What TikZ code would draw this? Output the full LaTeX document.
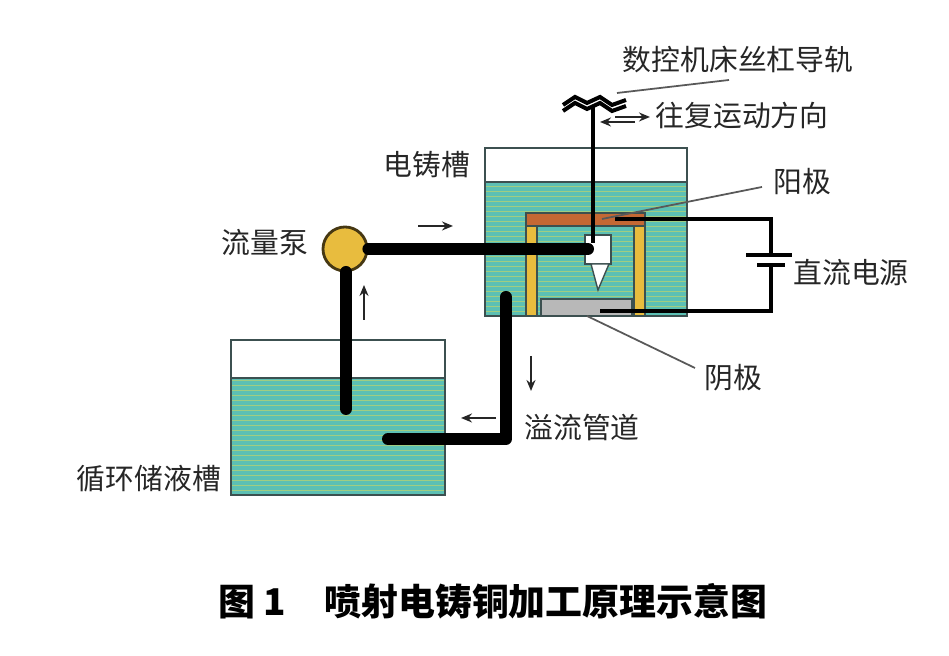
\documentclass[tikz,border=0pt]{standalone}
\usepackage{fontspec}
\setmainfont{Noto Sans CJK SC}
\usepackage{xcolor}
\definecolor{liquidc}{RGB}{92,192,180}
\definecolor{stripec}{RGB}{160,205,130}
\definecolor{goldc}{RGB}{232,188,62}
\definecolor{copperc}{RGB}{196,104,52}
\definecolor{edgec}{RGB}{60,80,80}
\usetikzlibrary{arrows.meta}
\tikzset{
  lab/.style={font=\fontsize{8.2}{10}\selectfont,text=black!85,inner sep=0pt},
  pipe/.style={line width=.12cm,line cap=round,line join=round},
  wire/.style={line width=.04cm},
  thinarr/.style={-{Stealth[length=.11cm,width=.09cm]},line width=.5pt,black!85},
  leader/.style={line width=.5pt,black!65},
  tankbox/.style={draw=edgec,line width=.6pt},
}
% stripes of the liquid: x0, x1, y-top, y-bottom
\newcommand{\liquid}[4]{%
  \fill[liquidc] (#1,#3) rectangle (#2,#4);
  \pgfmathsetmacro{\ynext}{#4+.05}
  \foreach \yy in {#4,\ynext,...,#3} \draw[stripec,line width=.2pt] (#1,\yy)--(#2,\yy);
}
\begin{document}
\begin{tikzpicture}
\useasboundingbox (0,0) rectangle (9.49,6.56);
% reservoir
\liquid{2.31}{4.45}{2.78}{1.61}
\draw[tankbox] (2.31,1.61) rectangle (4.45,3.16);
\draw[tankbox] (2.31,2.78)--(4.45,2.78);
% forming tank
\liquid{4.85}{6.87}{4.74}{3.40}
\draw[tankbox] (4.85,3.40) rectangle (6.87,5.08);
\draw[tankbox] (4.85,4.74)--(6.87,4.74);
% frame, anode, cathode
\fill[goldc,draw=edgec] (5.26,3.40) rectangle (5.37,4.30);
\fill[goldc,draw=edgec] (6.34,3.40) rectangle (6.45,4.30);
\fill[copperc,draw=edgec] (5.26,4.30) rectangle (6.45,4.43);
\fill[black!28,draw=edgec] (5.41,3.40) rectangle (6.32,3.57);
% nozzle
\fill[white,draw=edgec] (5.85,3.92) rectangle (6.11,4.21);
\fill[white,draw=edgec] (5.91,3.92)--(6.09,3.92)--(5.98,3.66)--cycle;
% named points of pipes and wires
\node[circle,fill=goldc,draw=black!70!goldc,line width=.8pt,minimum size=.44cm,inner sep=0pt] (pump) at (3.45,4.07) {};
\coordinate (nozzle) at (5.88,4.07);
\coordinate (suck) at (3.46,2.47);
\coordinate (pumpin) at (3.46,3.84);
\coordinate (overtop) at (5.06,3.59);
\coordinate (overlow) at (5.06,2.17);
\coordinate (overend) at (3.88,2.17);
\coordinate (rodtop) at (5.93,5.50);
\coordinate (rodend) at (5.93,4.13);
\coordinate (anodept) at (6.15,4.37);
\coordinate (cathpt) at (6.00,3.45);
\coordinate (batcorna) at (7.71,4.37);
\coordinate (batcornb) at (7.71,3.45);
\coordinate (plusplate) at (7.71,4.01);
\coordinate (minusplate) at (7.71,3.91);
\draw[pipe] (pump.east)--(nozzle);
\draw[pipe] (pumpin)--(suck);
\draw[pipe] (overtop)--(overlow)--(overend);
\draw[line width=.04cm] (rodtop)--(rodend);
\draw[wire] (anodept)--(batcorna)--(plusplate);
\draw[wire] (minusplate)--(batcornb)--(cathpt);
\draw[line width=.045cm] (7.46,4.01)--(7.92,4.01);
\draw[line width=.045cm] (7.57,3.91)--(7.85,3.91);
% lead screw
\foreach \dd in {0,.06} \draw[line width=.04cm]
  (5.63,5.51-\dd)--(5.75,5.59-\dd)--(5.87,5.53-\dd)--(6.00,5.59-\dd)--(6.12,5.51-\dd)--(6.26,5.56-\dd);
% flow and motion arrows
\draw[thinarr] (6.15,5.39)--(6.50,5.39);
\draw[thinarr] (6.35,5.34)--(6.00,5.34);
\draw[thinarr] (4.18,4.30)--(4.53,4.30);
\draw[thinarr] (3.64,3.36)--(3.64,3.71);
\draw[thinarr] (5.31,3.00)--(5.31,2.65);
\draw[thinarr] (4.96,2.38)--(4.61,2.38);
% labels
\node[lab] (screwlab) at (7.38,5.96) {数控机床丝杠导轨};
\node[lab] (movelab) at (7.42,5.40) {往复运动方向};
\node[lab] (tanklab) at (4.27,4.91) {电铸槽};
\node[lab] (anodelab) at (8.02,4.74) {阳极};
\node[lab] (pumplab) at (2.65,4.13) {流量泵};
\node[lab] (powerlab) at (8.51,3.83) {直流电源};
\node[lab] (cathlab) at (7.33,2.78) {阴极};
\node[lab] (overlab) at (5.82,2.28) {溢流管道};
\node[lab] (storelab) at (1.49,1.77) {循环储液槽};
\node[font=\fontsize{10.5}{12}\selectfont\bfseries,inner sep=0pt] (title) at (4.93,.55) {图 1\hspace{.38cm}喷射电铸铜加工原理示意图};
% leaders
\coordinate (screwpt) at (6.17,5.63);
\coordinate (anodetip) at (6.02,4.37);
\coordinate (cathtip) at (5.87,3.40);
\draw[leader] (screwpt)--(7.29,5.76);
\draw[leader] (anodetip)--(7.62,4.69);
\draw[leader] (cathtip)--(6.95,2.88);
\end{tikzpicture}
\end{document}
